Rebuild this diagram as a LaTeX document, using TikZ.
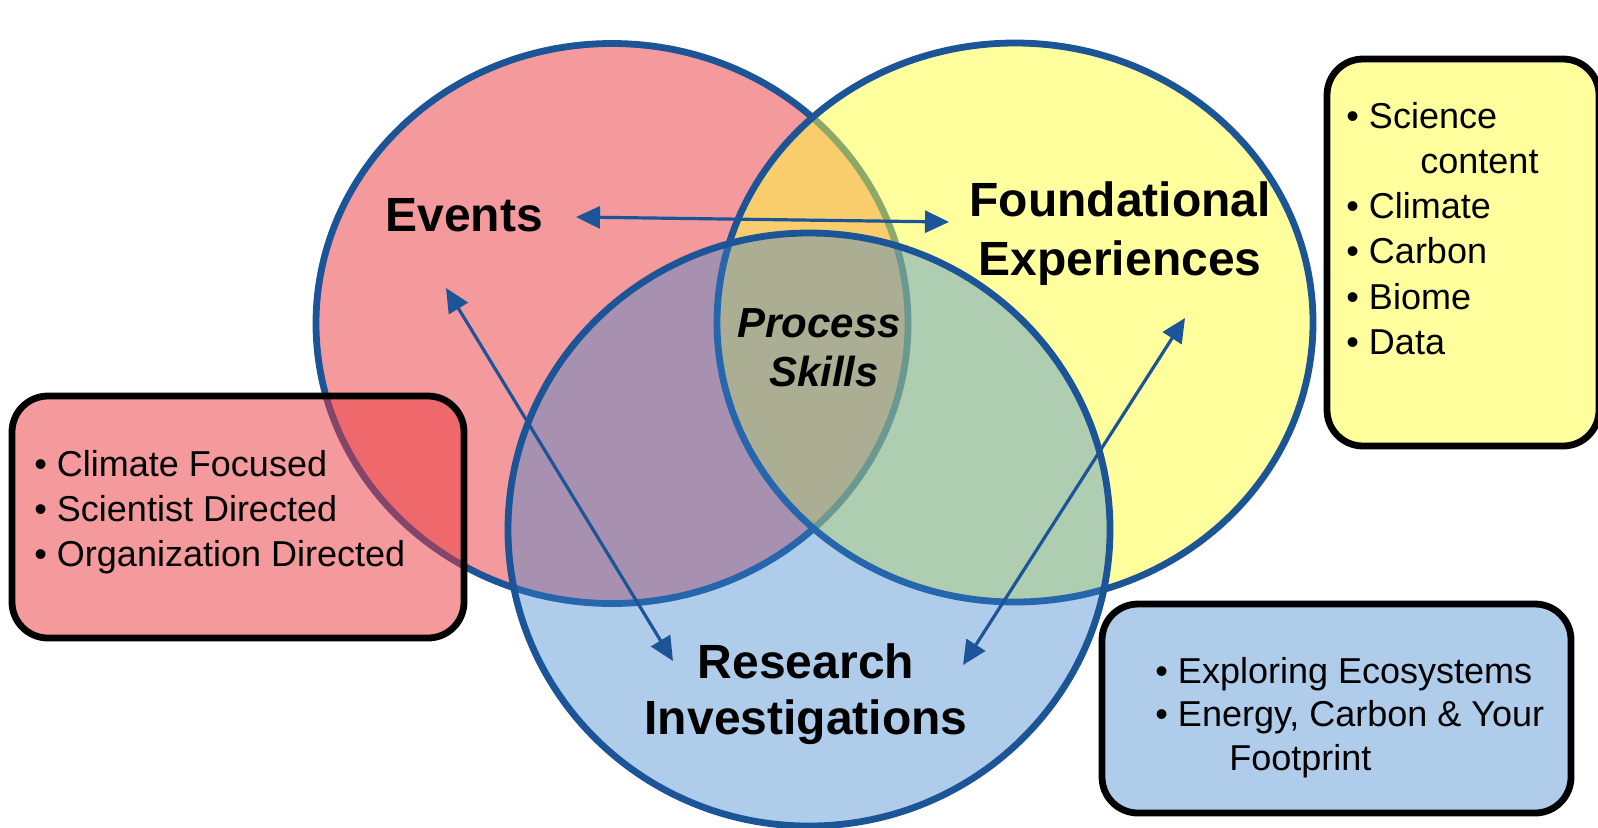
\documentclass[tikz,border=0pt]{standalone}
\usepackage{fontspec}
\setmainfont{Liberation Sans}
\usetikzlibrary{shapes.geometric,arrows.meta}
\definecolor{vennline}{RGB}{28,84,152}
\definecolor{vred}{RGB}{235,55,60}
\definecolor{vyellow}{RGB}{255,255,60}
\definecolor{vblue}{RGB}{55,130,205}
\begin{document}
\begin{tikzpicture}[x=0.5pt,y=-0.5pt,
  listbox/.style={rectangle, draw=black, line width=3.4pt, rounded corners=18pt, inner sep=0pt, fill opacity=0.5},
  venn/.style={ellipse, draw=vennline, line width=3.4pt, fill opacity=0.5, inner sep=0pt},
  title/.style={font=\bfseries\fontsize{24}{28}\selectfont, anchor=base, inner sep=0pt},
  ptitle/.style={font=\bfseries\itshape\fontsize{21}{25}\selectfont, anchor=base, inner sep=0pt},
  item/.style={font=\fontsize{18}{22}\selectfont, anchor=base west, inner sep=0pt},
  biarrow/.style={draw=vennline, line width=1.6pt, arrows={Triangle[length=12pt,width=11pt]-Triangle[length=12pt,width=11pt]}}]
\useasboundingbox (0,0) rectangle (1598,827);
\fill[white] (0,0) rectangle (1598,827);
% venn ellipses
\node[venn, fill=vred, minimum width=296pt, minimum height=280pt] (ev) at (612,323.5) {};
\node[venn, fill=vyellow, minimum width=298pt, minimum height=279.5pt] (fo) at (1015,322.5) {};
\node[venn, fill=vblue, fill opacity=0.4, minimum width=301pt, minimum height=296.5pt] (re) at (809,529.5) {};
% side boxes
\node[listbox, fill=vred, minimum width=226pt, minimum height=121pt] (rbox) at (238,517) {};
\node[listbox, fill=vyellow, minimum width=136pt, minimum height=193.5pt] (ybox) at (1463,252.5) {};
\node[listbox, fill=vblue, fill opacity=0.4, minimum width=234.5pt, minimum height=104.5pt] (bbox) at (1336.5,708.5) {};
% titles
\node[title] (evt) at (464,231) {Events};
\node[title] (fnd1) at (1120,216) {Foundational};
\node[title] (fnd2) at (1120,275) {Experiences};
\node[title] (res1) at (806,678) {Research};
\node[title] (res2) at (806,734) {Investigations};
\node[ptitle] (ps1) at (819,337) {Process};
\node[ptitle] (ps2) at (824,386) {Skills};
% lists
\node[item] (r1) at (34,476) {• Climate Focused};
\node[item] (r2) at (34,521) {• Scientist Directed};
\node[item] (r3) at (34,566) {• Organization Directed};
\node[item] (y1) at (1346,128) {• Science};
\node[item] (y2) at (1420,173) {content};
\node[item] (y3) at (1346,218) {• Climate};
\node[item] (y4) at (1346,263) {• Carbon};
\node[item] (y5) at (1346,309) {• Biome};
\node[item] (y6) at (1346,354) {• Data};
\node[item] (b1) at (1155,683) {• Exploring Ecosystems};
\node[item] (b2) at (1155,726) {• Energy, Carbon \& Your};
\node[item] (b3) at (1229,770) {Footprint};
% arrows
\coordinate (a1) at (576,217);
\coordinate (a2) at (949,222);
\coordinate (c1) at (446,288);
\coordinate (c2) at (673,661);
\coordinate (d1) at (1185,318);
\coordinate (d2) at (963,665);
\draw[biarrow] (a1) -- (a2);
\draw[biarrow] (c1) -- (c2);
\draw[biarrow] (d1) -- (d2);
\end{tikzpicture}
\end{document}
